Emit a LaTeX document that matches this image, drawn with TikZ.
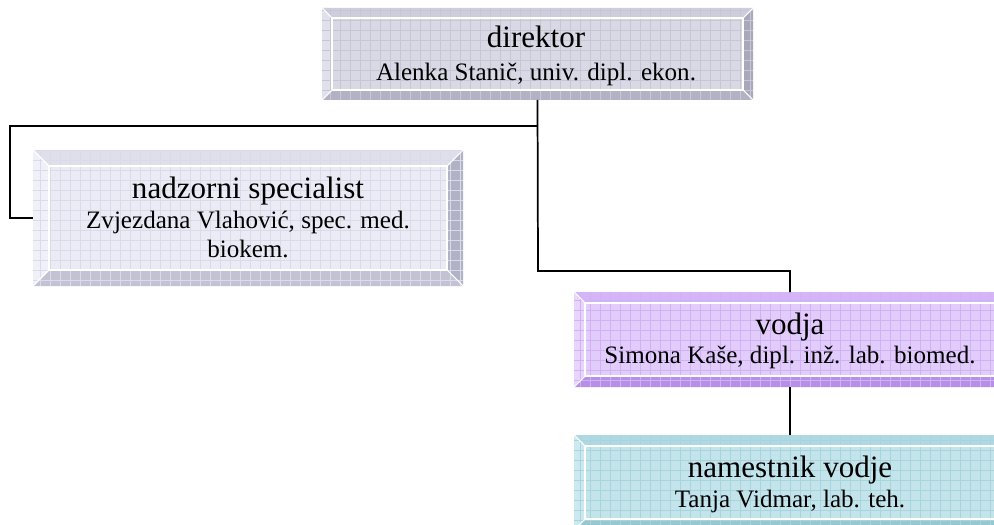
\documentclass[tikz,border=0pt]{standalone}
\usepackage{fontspec}
\setmainfont{Liberation Serif}
\definecolor{dface}{HTML}{D9D9E6}\definecolor{dtop}{HTML}{CDCDDC}\definecolor{dleft}{HTML}{E1E1EB}
\definecolor{dright}{HTML}{A8A8BA}\definecolor{dbot}{HTML}{B2B2C4}\definecolor{dgrid}{HTML}{C6C6D6}
\definecolor{nface}{HTML}{EBEBF5}\definecolor{ntop}{HTML}{DFDFEB}\definecolor{nleft}{HTML}{F0F0F8}
\definecolor{nright}{HTML}{B2B2C6}\definecolor{nbot}{HTML}{C2C2D4}\definecolor{ngrid}{HTML}{DADAE8}
\definecolor{vface}{HTML}{E2CCFC}\definecolor{vtop}{HTML}{D4B6F8}\definecolor{vleft}{HTML}{E8D4FC}
\definecolor{vright}{HTML}{AE8ADE}\definecolor{vbot}{HTML}{B690E6}\definecolor{vgrid}{HTML}{D0B2F4}
\definecolor{mface}{HTML}{C3E4EA}\definecolor{mtop}{HTML}{AFD9E2}\definecolor{mleft}{HTML}{CCE9EF}
\definecolor{mright}{HTML}{8CC3CF}\definecolor{mbot}{HTML}{96C7D3}\definecolor{mgrid}{HTML}{A8D4DE}
\newcommand\ttl{\fontsize{23.3}{28}\selectfont}
\newcommand\sbt{\fontsize{18.8}{22}\selectfont}
% #1 name, #2 x1, #3 y1, #4 x2, #5 y2, #6 bevel, #7 colour prefix
\newcommand\bevelbox[7]{%
  \node[boxshape, minimum width=(#4-#2)*0.75pt, minimum height=(#5-#3)*0.75pt] (#1) at ({(#2+#4)/2},{(#3+#5)/2}) {};
  \fill[#7face] (#2,#3) rectangle (#4,#5);
  \fill[#7top] (#2,#3) -- (#4,#3) -- ({#4-#6},{#3+#6}) -- ({#2+#6},{#3+#6}) -- cycle;
  \fill[#7left] (#2,#3) -- ({#2+#6},{#3+#6}) -- ({#2+#6},{#5-#6}) -- (#2,#5) -- cycle;
  \fill[#7right] (#4,#3) -- ({#4-#6},{#3+#6}) -- ({#4-#6},{#5-#6}) -- (#4,#5) -- cycle;
  \fill[#7bot] (#2,#5) -- ({#2+#6},{#5-#6}) -- ({#4-#6},{#5-#6}) -- (#4,#5) -- cycle;
  \begin{scope}
    \clip (#2,#3) rectangle (#4,#5);
    \draw[#7grid, line width=0.35pt, step=7.5pt] (#2,#3) grid (#4,#5);
  \end{scope}
  \draw[white, line width=1.2pt] ({#2+#6},{#3+#6}) rectangle ({#4-#6},{#5-#6});
  \draw[white, line width=0.8pt] (#2,#3) -- ({#2+#6},{#3+#6}) (#4,#3) -- ({#4-#6},{#3+#6})
       (#2,#5) -- ({#2+#6},{#5-#6}) (#4,#5) -- ({#4-#6},{#5-#6});
}
\begin{document}
\begin{tikzpicture}[x=0.75pt, y=-0.75pt,
  boxshape/.style={rectangle, inner sep=0pt, outer sep=0pt},
  title/.style={anchor=base, inner sep=0pt, font=\ttl},
  sub/.style={anchor=base, inner sep=0pt, font=\sbt},
  conn/.style={line width=1.3pt, black}]
\useasboundingbox (0,0) rectangle (994,524);
\clip (0,0) rectangle (994,524);
\fill[white] (0,0) rectangle (994,524);

\bevelbox{dir}{322}{8}{753}{100}{10}{d}
\bevelbox{nad}{33}{150}{463}{286}{16}{n}
\bevelbox{vod}{574}{292}{1006}{387}{11}{v}
\bevelbox{nam}{574}{435}{1006}{530}{11}{m}

\node[title] (dirT) at (536,48) {direktor};
\node[sub] (dirS) at (536,81) {Alenka Stanič, univ. dipl. ekon.};
\node[title] (nadT) at (248,198) {nadzorni specialist};
\node[sub] (nadS) at (248,228) {Zvjezdana Vlahović, spec. med.};
\node[sub] (nadS2) at (248,257) {biokem.};
\node[title] (vodT) at (790,334) {vodja};
\node[sub] (vodS) at (790,363) {Simona Kaše, dipl. inž. lab. biomed.};
\node[title] (namT) at (790,477) {namestnik vodje};
\node[sub] (namS) at (790,507) {Tanja Vidmar, lab. teh.};

\coordinate (lft) at (10,126);
\coordinate (mid) at (538,271);
\draw[conn] (dir.south) |- (lft) |- (nad.west);
\draw[conn] (dir.south) -- (mid) -| (vod.north);
\draw[conn] (vod.south) -- (nam.north);
\end{tikzpicture}
\end{document}
